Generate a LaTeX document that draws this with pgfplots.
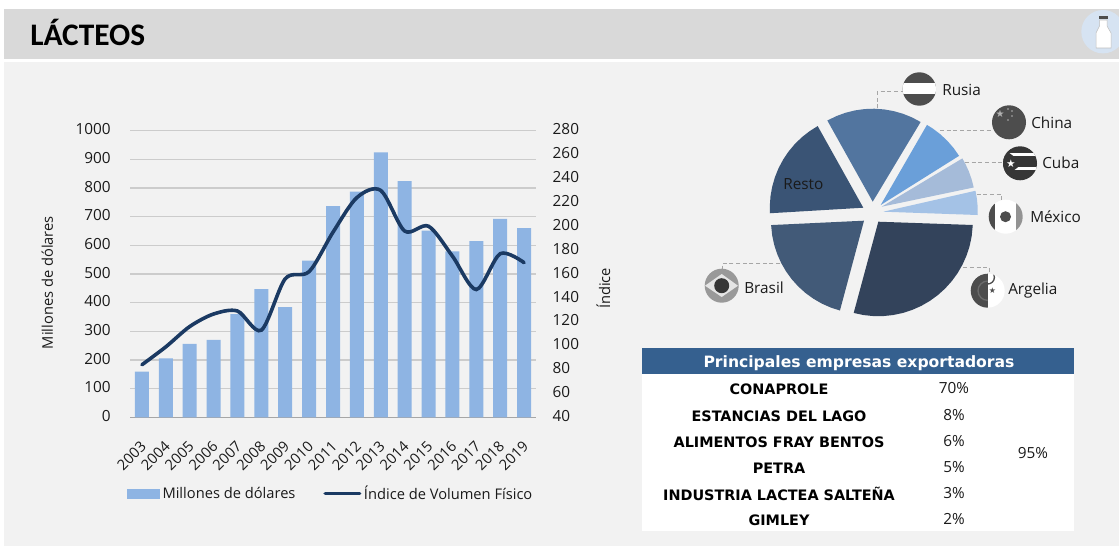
\documentclass[border=0pt]{standalone}
\usepackage{fontspec}
\usepackage{pgfplots}
\usepgfplotslibrary{polar}
\pgfplotsset{compat=1.18}
\setmainfont{Open Sans}
\newfontfamily\titlefont{Carlito}
\newfontfamily\tabfont{DejaVu Sans}
\newfontfamily\symfont{DejaVu Sans}

\definecolor{panel}{HTML}{F2F2F2}
\definecolor{header}{HTML}{D9D9D9}
\definecolor{gridc}{HTML}{CCCCCC}
\definecolor{basec}{HTML}{A6A6A6}
\definecolor{barc}{HTML}{8EB4E3}
\definecolor{linec}{HTML}{1B3A63}
\definecolor{tabhead}{HTML}{35608F}
\definecolor{txt}{HTML}{1A1A1A}
\definecolor{cResto}{HTML}{3A5475}
\definecolor{cRusia}{HTML}{52759F}
\definecolor{cChina}{HTML}{6A9FD9}
\definecolor{cCuba}{HTML}{A5BBD9}
\definecolor{cMexico}{HTML}{A4C2E6}
\definecolor{cArgelia}{HTML}{33435B}
\definecolor{cBrasil}{HTML}{425A78}
\definecolor{flagd}{HTML}{4D4D4D}
\definecolor{icon}{HTML}{D6E3F2}

\pgfplotstableread{
year musd
2003 159
2004 206
2005 256
2006 270
2007 360
2008 447
2009 384
2010 547
2011 737
2012 787
2013 924
2014 824
2015 651
2016 579
2017 615
2018 692
2019 660
}\exports
\pgfplotstableread{
year idx
2003 84
2004 99
2005 116
2006 126.5
2007 129
2008 113
2009 156
2010 162
2011 195
2012 224
2013 230
2014 196
2015 200
2016 175
2017 147
2018 177
2019 169.5
}\volume

\newcommand{\fs}[1]{\fontsize{#1}{#1}\selectfont}
% px: reference pixels, measured from the top left
\tikzset{px/.style={x=0.75pt, y=-0.75pt, yshift=410.25pt},
  lead/.style={draw=gray!70, densely dashed, line width=0.5pt},
  lab/.style={font=\fs{11.5}, text=txt, inner sep=0pt, anchor=west}}

\begin{document}
\begin{tikzpicture}
\path[use as bounding box] (0pt,0pt) rectangle (839.25pt,410.25pt);
\begin{scope}[px]
\fill[white] (0,0) rectangle (1119,547);
\fill[header] (4,9) rectangle (1119,59.5);
\fill[panel] (4,62) rectangle (1119,546);
\node[anchor=west, inner sep=0pt, font=\titlefont\bfseries\fs{23.5}, text=black] at (30,32) {LÁCTEOS};

% bottle icon
\fill[icon] (1103,31.7) circle (21.7);
\fill[white, draw=gray!50, line width=0.4pt] (1099.5,20) -- (1107,20) -- (1107,26) -- (1111,33) -- (1111,48) -- (1096,48) -- (1096,33) -- (1099.5,26) -- cycle;
\fill[flagd] (1098.5,15.7) rectangle (1108,19.5);
\end{scope}

% bars
\begin{axis}[
    at={(97.5pt,97.275pt)}, anchor=south west, scale only axis,
    width=304.5pt, height=214.95pt,
    xmin=2002.5, xmax=2019.5, ymin=0, ymax=1000,
    ytick={0,100,...,1000},
    xtick={2003,2004,...,2019},
    axis x line*=bottom, axis y line*=left,
    axis line style={-},
    x axis line style={draw=basec, line width=0.8pt},
    y axis line style={draw=none},
    major tick length=0pt,
    ymajorgrids, grid style={gridc, line width=0.8pt},
    tick label style={font=\fs{11.5}, text=txt},
    /pgf/number format/assume math mode=true,
    /pgf/number format/1000 sep={},
    yticklabel style={xshift=-11pt, yshift=1pt},
    xticklabel style={font=\fs{11}, rotate=45, anchor=north east, xshift=-10pt, yshift=-7.5pt},
    ylabel={Millones de dólares},
    y label style={at={(axis description cs:-0.2037,0.47)}, anchor=center, font=\fs{11}, text=txt},
]
\addplot[ybar, bar width=10.5pt, fill=barc, draw=none] table[x=year, y=musd] {\exports};
\end{axis}

% index line on the right axis
\begin{axis}[
    at={(97.5pt,97.275pt)}, anchor=south west, scale only axis,
    width=304.5pt, height=214.95pt,
    xmin=2002.5, xmax=2019.5, ymin=40, ymax=280,
    ytick={40,60,...,280},
    axis x line=none, axis y line*=right,
    axis line style={draw=none, -},
    major tick length=0pt,
    tick label style={font=\fs{11.5}, text=txt},
    /pgf/number format/assume math mode=true,
    yticklabel style={xshift=9pt, yshift=1pt},
    ylabel={Índice},
    y label style={at={(axis description cs:1.1658,0.45)}, anchor=center, rotate=0, font=\fs{11}, text=txt},
    legend columns=2,
    legend cell align=left,
    legend style={at={(axis description cs:0.4955,-0.266)}, anchor=center, draw=none, fill=none,
      font=\fs{11}, text=txt, /tikz/every even column/.style={column sep=19pt}},
]
\addlegendimage{legend image code/.code={\fill[barc] (0pt,-3.5pt) rectangle (24pt,3.5pt);}}
\addlegendentry{Millones de dólares}
\addlegendimage{legend image code/.code={\draw[linec, line width=2.4pt, line cap=round] (0pt,0pt) -- (26pt,0pt);}}
\addlegendentry{Índice de Volumen Físico}
\addplot[smooth, no markers, linec, line width=2.7pt, line cap=round, forget plot] table[x=year, y=idx] {\volume};
\end{axis}

\begin{scope}[px]
% leader lines
\draw[lead] (877.3,108.3) -- (877.3,91.7) -- (902.7,91.7);
\draw[lead] (940,130.7) -- (991.7,130.7);
\draw[lead] (965,162.3) -- (1005,162.3);
\draw[lead] (976.7,194.7) -- (1001.7,194.7) -- (1001.7,200);
\draw[lead] (963.3,267.3) -- (989.3,267.3) -- (989.3,273.3);
\draw[lead] (780,263.3) -- (722.3,263.3) -- (722.3,269.3);
\end{scope}

% pie, wedge angles and radius in the table
\begin{polaraxis}[
    at={(654.75pt,251.25pt)}, anchor=center, scale only axis,
    width=165pt, height=165pt,
    xmin=0, xmax=360, ymin=0, ymax=110,
    hide axis, clip=false,
]
\addplot[fill=cResto, draw=none, xshift=-7.28pt, yshift=3.22pt] coordinates {(119.2,0) (119.2,93.5) (125,93.5) (131,93.5) (137,93.5) (143,93.5) (149,93.5) (155,93.5) (161,93.5) (167,93.5) (173,93.5) (179,93.5) (183.4,93.5)} --cycle;
\addplot[fill=cRusia, draw=none, xshift=-0.22pt, yshift=7.72pt] coordinates {(59,0) (59,93) (65,93) (71,93) (77,93) (83,93) (89,93) (95,93) (101,93) (107,93) (113,93) (119.2,93)} --cycle;
\addplot[fill=cChina, draw=none, xshift=5.78pt, yshift=5.25pt] coordinates {(32.1,0) (32.1,92.5) (38,92.5) (44,92.5) (50,92.5) (56,92.5) (60,92.5)} --cycle;
\addplot[fill=cCuba, draw=none, xshift=6.52pt, yshift=3.98pt] coordinates {(11.8,0) (11.8,94) (17,94) (22,94) (27,94) (30.9,94)} --cycle;
\addplot[fill=cMexico, draw=none, xshift=7.72pt, yshift=0.22pt] coordinates {(-2,0) (-2,94.5) (3,94.5) (8,94.5) (12.8,94.5)} --cycle;
\addplot[fill=cArgelia, draw=none, xshift=3.98pt, yshift=-7.28pt] coordinates {(-105.1,0) (-105.1,94.5) (-99,94.5) (-93,94.5) (-87,94.5) (-81,94.5) (-75,94.5) (-69,94.5) (-63,94.5) (-57,94.5) (-51,94.5) (-45,94.5) (-39,94.5) (-33,94.5) (-27,94.5) (-21,94.5) (-15,94.5) (-9,94.5) (-2,94.5)} --cycle;
\addplot[fill=cBrasil, draw=none, xshift=-6.75pt, yshift=-6.52pt] coordinates {(182.7,0) (182.7,93) (189,93) (195,93) (201,93) (207,93) (213,93) (219,93) (225,93) (231,93) (237,93) (243,93) (249,93) (255,93)} --cycle;
\end{polaraxis}

\begin{scope}[px]
% flags
\begin{scope}
\clip (919.3,89) circle (16.7);
\fill[flagd] (900,70) rectangle (940,110);
\fill[white] (900,83.3) rectangle (940,94);
\end{scope}
\fill[flagd] (1009,122.3) circle (17);
\node[font=\symfont\fs{7.5}, text=gray!60!white, inner sep=0pt] at (1000,113.5) {★};
\foreach \p in {(1008,109),(1012,111),(1012,116),(1008,120)}
  \fill[gray!60!white] \p circle (0.8);
\begin{scope}
\clip (1020,163.3) circle (17);
\fill[flagd!70!black] (1000,146) rectangle (1040,182);
\fill[white] (1000,153) rectangle (1040,156.5);
\fill[white] (1000,167) rectangle (1040,170.5);
\fill[flagd!70!black] (1000,146) -- (1023,163.3) -- (1000,181) -- cycle;
\end{scope}
\node[font=\symfont\fs{8}, text=white, inner sep=0pt] at (1011,163.3) {★};
\begin{scope}
\clip (1005.7,216.7) circle (17);
\fill[white] (985,198) rectangle (1025,236);
\fill[flagd] (985,198) rectangle (995,236);
\fill[gray!85] (1016,198) rectangle (1025,236);
\fill[flagd] (1005.5,216.7) circle (5.5);
\end{scope}
\begin{scope}
\clip (987.7,290.7) circle (17);
\fill[white] (970,272) rectangle (1006,310);
\fill[flagd] (970,272) rectangle (987.7,310);
\draw[gray!60!flagd, line width=1pt] (987.7,281) arc[start angle=-90, end angle=-270, radius=9.7];
\draw[flagd, line width=1pt] (987.7,284) arc[start angle=90, end angle=-90, radius=6.7];
\end{scope}
\node[font=\symfont\fs{6}, text=flagd, inner sep=0pt] at (992.5,290.7) {★};
\fill[gray!80] (721.7,285.7) circle (17);
\fill[gray!20] (705,285.7) -- (721.7,274) -- (738,285.7) -- (721.7,297) -- cycle;
\fill[flagd!70!black] (721.7,285.7) circle (7.5);

% pie and flag labels
\node[lab] at (942,90) {Rusia};
\node[lab] at (1031,122.3) {China};
\node[lab] at (1042,163) {Cuba};
\node[lab] at (1030,216.5) {México};
\node[lab] at (1008,291) {Argelia};
\node[lab] at (744,288) {Brasil};
\node[lab] at (783,184) {Resto};

% table of exporters
\fill[white] (642.3,374.3) rectangle (1073.5,530.7);
\fill[tabhead] (642.3,348) rectangle (1073.5,374.3);
\node[font=\tabfont\bfseries\fs{11.7}, text=white, inner sep=0pt] at (859,363.5) {Principales empresas exportadoras};
\foreach \y/\name/\p in {389.3/CONAPROLE/70,416/ESTANCIAS DEL LAGO/8,442/ALIMENTOS FRAY BENTOS/6,468/PETRA/5,494/INDUSTRIA LACTEA SALTEÑA/3,520/GIMLEY/2} {
  \node[font=\tabfont\bfseries\fs{10.8}, text=black, inner sep=0pt] at (779,\y) {\name};
  \node[font=\fs{11.5}, text=txt, inner sep=0pt] at (954,\y-1) {\p\%};
}
\node[font=\fs{11.5}, text=txt, inner sep=0pt] at (1033,452.7) {95\%};
\end{scope}
\end{tikzpicture}
\end{document}
